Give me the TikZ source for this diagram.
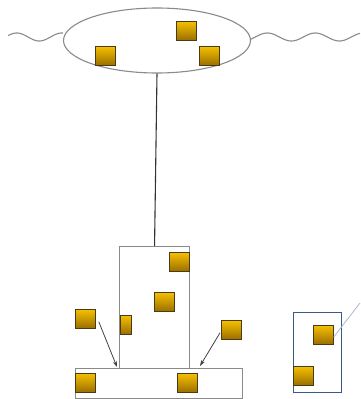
\documentclass[tikz,border=0pt]{standalone}
\usetikzlibrary{arrows.meta,shapes.geometric}
\definecolor{frame}{HTML}{8A8A8A}
\definecolor{goldtop}{HTML}{F5C000}
\definecolor{goldbot}{HTML}{9A6E00}
\definecolor{edgedark}{HTML}{4A3A18}
\definecolor{bluebox}{HTML}{3A5A8C}
\definecolor{thinblue}{HTML}{A8B8CC}
\tikzset{
  chip/.style={draw=edgedark, line width=0.8pt, top color=goldtop, bottom color=goldbot,
    minimum width=20pt, minimum height=19pt, inner sep=0pt, anchor=north west},
  outline/.style={draw=frame, line width=1.1pt, fill=white},
  pointer/.style={draw=black!75, line width=0.8pt, -{Stealth[length=6pt,width=4pt]}},
}
\begin{document}
\begin{tikzpicture}[x=1pt,y=-1pt]
\useasboundingbox (0,0) rectangle (360,399);
% wavy water lines on either side of the floating ellipse
\draw[frame, line width=1.1pt] plot[domain=8:63, samples=50, smooth] (\x, {37+4*sin((\x-8)*8+200)});
\draw[frame, line width=1.1pt] plot[domain=250:360, samples=80, smooth] (\x, {37-4*sin((\x-250)*7.5-40)});
% floating ellipse with its contents
\node[outline, ellipse, minimum width=187pt, minimum height=65pt, inner sep=0pt] (ell) at (157,40.5) {};
\node[chip] (e1) at (176,21) {};
\node[chip] (e2) at (95,46) {};
\node[chip] (e3) at (199,46) {};
% tower and base
\node[outline, rectangle, minimum width=70pt, minimum height=122pt, inner sep=0pt, anchor=north west] (tower) at (119,246) {};
\node[outline, rectangle, minimum width=167pt, minimum height=30pt, inner sep=0pt, anchor=north west] (base) at (75,368) {};
\draw[black!80, line width=1.1pt] (ell.south) -- (tower.north);
\node[chip] (t1) at (169,252) {};
\node[chip] (t2) at (154,292) {};
\node[chip, minimum width=11pt] (t3) at (120,315) {};
\node[chip] (b1) at (75,373) {};
\node[chip] (b2) at (177,373) {};
% loose pieces with pointers to the tower foot
\node[chip] (ls) at (75,309) {};
\node[chip] (rs) at (221,320) {};
\coordinate (lfoot) at (117,367);
\coordinate (rfoot) at (200,366);
\draw[pointer] ([shift={(3,-7)}]ls.south east) -- (lfoot);
\draw[pointer] ([shift={(-1,-7)}]rs.south west) -- (rfoot);
% blue side box
\node[draw=bluebox, line width=1.4pt, fill=white, minimum width=48pt, minimum height=80pt, inner sep=0pt, anchor=north west] (side) at (293,312) {};
\node[chip] (s1) at (313,325) {};
\node[chip] (s2) at (293,366) {};
\coordinate (edge) at (360,303);
\draw[thinblue, line width=0.8pt] ([yshift=-2]s1.east) -- (edge);
\end{tikzpicture}
\end{document}
